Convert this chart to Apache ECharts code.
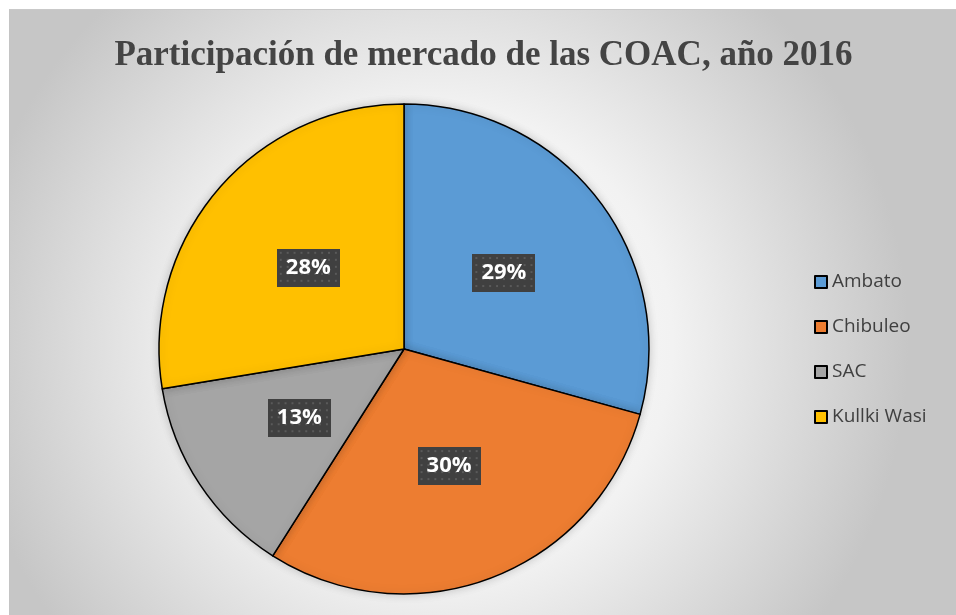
<!DOCTYPE html>
<html>
<head>
<meta charset="utf-8">
<script src="https://cdn.jsdelivr.net/npm/echarts@6/dist/echarts.min.js"></script>
<style>
  body { margin: 0; background: #ffffff; }
  #main { position: absolute; left: 9px; top: 9px; width: 947px; height: 606px;
          border-top: 1px solid #c9c9c9; border-left: 1px solid #c4c4c4; }
</style>
</head>
<body>
<div id="main"></div>
<script>
// datos
var categorias = ["Ambato", "Chibuleo", "SAC", "Kullki Wasi"];
var valores = [29.3, 29.7, 13.4, 27.6];
var colores = ["#5b9bd5", "#ed7d31", "#a5a5a5", "#ffc000"];

// fondo punteado de las etiquetas
function patron() {
  var c = document.createElement('canvas');
  c.width = 64; c.height = 38;
  var ctx = c.getContext('2d');
  ctx.fillStyle = '#404040';
  ctx.fillRect(0, 0, 64, 38);
  ctx.fillStyle = '#5a5a5a';
  for (var y = 3; y < 38; y += 7) {
    for (var x = 3; x < 64; x += 7) {
      ctx.fillRect(x, y, 2, 2);
    }
  }
  return c;
}

var datos = categorias.map(function (n, i) {
  return { name: n, value: valores[i], itemStyle: { color: colores[i] } };
});

var chartDom = document.getElementById('main');
var myChart = echarts.init(chartDom);
var option = {
  animation: false,
  backgroundColor: {
    type: 'radial', x: 0.45, y: 0.55, r: 0.78,
    colorStops: [
      { offset: 0, color: '#ffffff' },
      { offset: 0.5, color: '#f2f2f2' },
      { offset: 1, color: '#c6c6c6' }
    ]
  },
  title: {
    text: 'Participación de mercado de las COAC, año 2016',
    left: 'center',
    top: 23,
    textStyle: {
      fontFamily: 'Liberation Serif',
      fontWeight: 'bold',
      fontSize: 35,
      color: '#444444'
    }
  },
  legend: {
    orient: 'vertical',
    left: 799,
    top: 257,
    itemGap: 25,
    itemWidth: 12,
    itemHeight: 12,
    icon: 'rect',
    textStyle: {
      fontFamily: 'Open Sans',
      fontSize: 19,
      lineHeight: 20,
      color: '#404040'
    },
    data: categorias
  },
  series: [
    {
      type: 'pie',
      center: [394, 339],
      radius: [0, 245],
      startAngle: 90,
      clockwise: true,
      percentPrecision: 0,
      data: datos,
      itemStyle: {
        borderColor: '#000000',
        borderWidth: 1.5,
        shadowColor: 'rgba(0,0,0,0.18)',
        shadowBlur: 10
      },
      emphasis: { disabled: true },
      label: {
        show: true,
        position: 'inside',
        formatter: '{d}%',
        fontFamily: 'Open Sans',
        fontWeight: 'bold',
        fontSize: 22,
        color: '#ffffff',
        width: 63,
        height: 38,
        lineHeight: 38,
        align: 'center',
        backgroundColor: { image: patron() },
        shadowColor: 'rgba(0,0,0,0.55)',
        shadowBlur: 5,
        shadowOffsetX: 3,
        shadowOffsetY: 3
      },
      labelLine: { show: false }
    }
  ]
};
myChart.setOption(option);
</script>
</body>
</html>
